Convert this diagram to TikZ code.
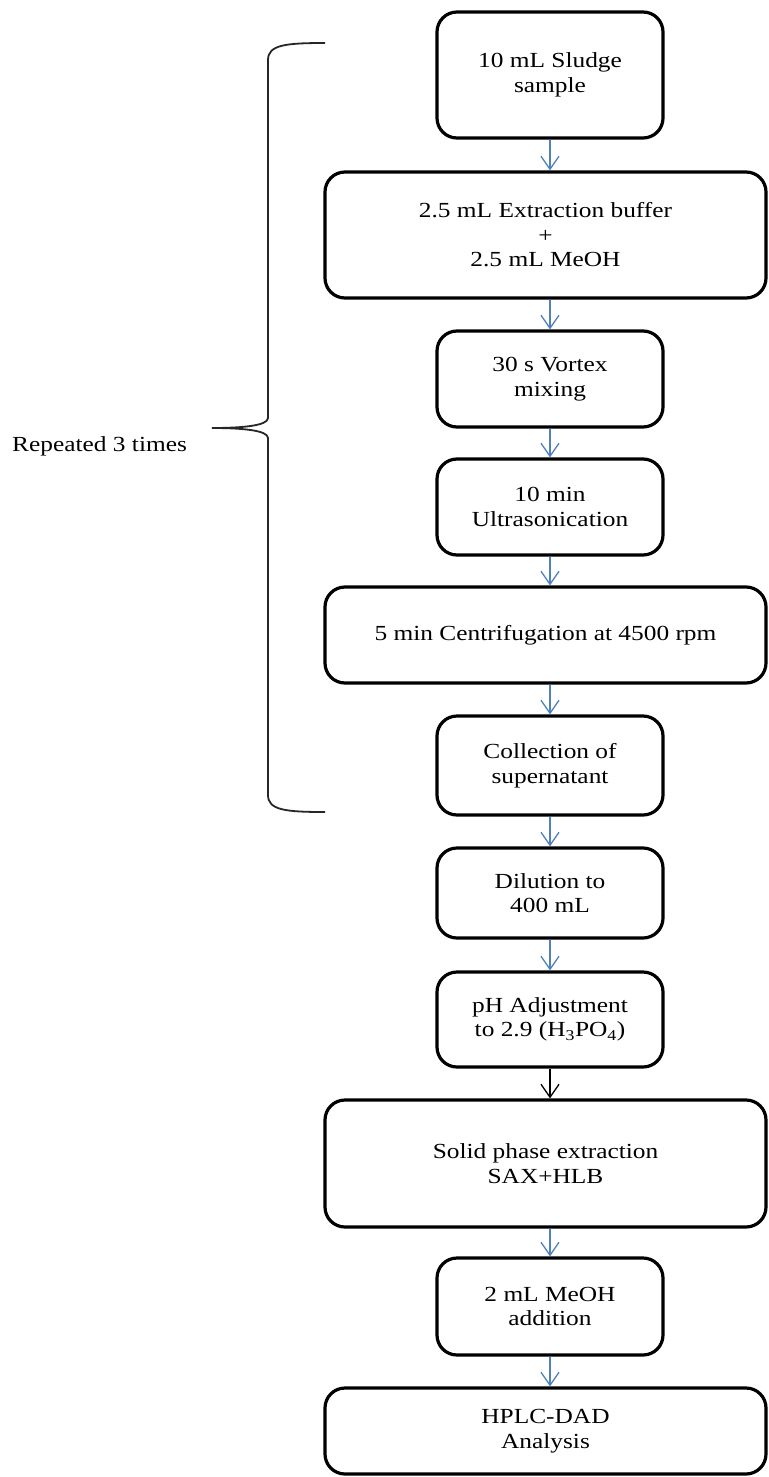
\documentclass[tikz,border=0pt]{standalone}
\usepackage{fontspec}
\setmainfont[FakeStretch=1.18]{Liberation Serif}
\usetikzlibrary{arrows.meta}
\definecolor{arrowblue}{RGB}{79,129,189}
\begin{document}
\begin{tikzpicture}[x=1pt,y=-1pt,
  stepbox/.style={draw=black,line width=3.2pt,rounded corners=20pt,align=center,
    font=\fontsize{21.5}{24.5}\selectfont,inner sep=0pt},
  small/.style={stepbox,minimum width=226pt},
  wide/.style={stepbox,minimum width=441pt},
  flow/.style={draw=arrowblue,line width=1.3pt,-{Straight Barb[length=13pt,width=18pt,line width=1.3pt]}},
  flowblack/.style={flow,draw=black},
  brace/.style={draw=black!85,line width=1.8pt}
]
\useasboundingbox (0,0) rectangle (768,1477);
\node[small,minimum height=126pt] (s1) at (550,75) {10 mL Sludge\\sample};
\node[wide,minimum height=126pt] (s2) at (545.5,235) {2.5 mL Extraction buffer\\+\\2.5 mL MeOH};
\node[small,minimum height=96pt] (s3) at (550,379) {30 s Vortex\\mixing};
\node[small,minimum height=96pt] (s4) at (550,507) {10 min\\Ultrasonication};
\node[wide,minimum height=96pt] (s5) at (545.5,635) {5 min Centrifugation at 4500 rpm};
\node[small,minimum height=99pt] (s6) at (550,765.5) {Collection of\\supernatant};
\node[small,minimum height=90pt] (s7) at (550,893) {Dilution to\\400 mL};
\node[small,minimum height=95pt] (s8) at (550,1019.5) {pH Adjustment\\to 2.9 (H\textsubscript{3}PO\textsubscript{4})};
\node[wide,minimum height=127pt] (s9) at (545.5,1163.5) {Solid phase extraction\\SAX+HLB};
\node[small,minimum height=97pt] (s10) at (550,1306.5) {2 mL MeOH\\addition};
\node[wide,minimum height=86pt] (s11) at (545.5,1431) {HPLC-DAD\\Analysis};

\draw[flow] (s1.south) -- (s1.south |- s2.north);
\draw[flow] (s3.north |- s2.south) -- (s3.north);
\draw[flow] (s3.south) -- (s4.north);
\draw[flow] (s4.south) -- (s4.south |- s5.north);
\draw[flow] (s6.north |- s5.south) -- (s6.north);
\draw[flow] (s6.south) -- (s7.north);
\draw[flow] (s7.south) -- (s8.north);
\draw[flowblack] (s8.south) -- (s8.south |- s9.north);
\draw[flow] (s10.north |- s9.south) -- (s10.north);
\draw[flow] (s10.south) -- (s10.south |- s11.north);

\coordinate (btop) at (325,43);
\coordinate (btip) at (212,428);
\coordinate (bbot) at (325,812);
\draw[brace] (btop) .. controls (285,43) and (268,45) .. (268,60) -- (268,418)
  .. controls (268,426) and (240,428) .. (btip)
  .. controls (240,428) and (268,430) .. (268,438) -- (268,795)
  .. controls (268,810) and (285,812) .. (bbot);
\node[anchor=base west,inner sep=0pt,font=\fontsize{21.5}{24.5}\selectfont] (rep) at (12,451) {Repeated 3 times};
\end{tikzpicture}
\end{document}
